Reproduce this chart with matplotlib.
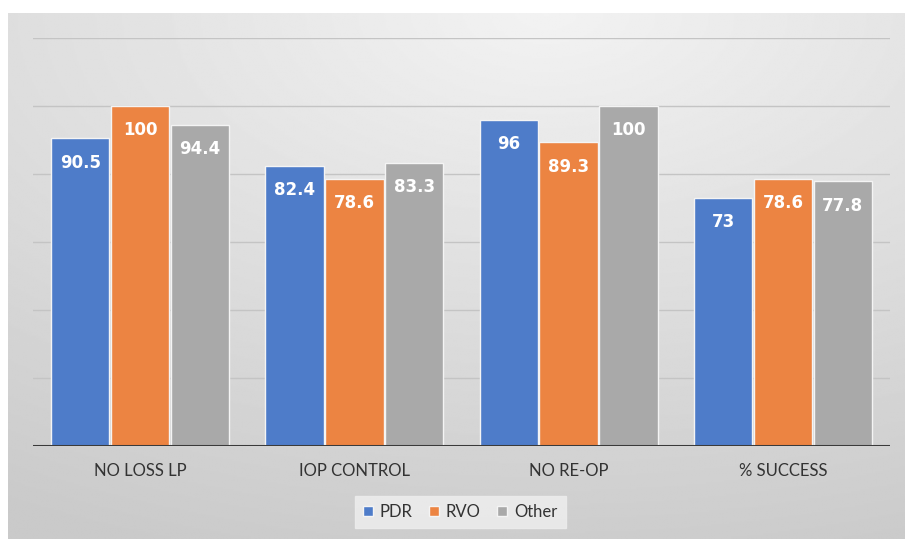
import numpy as np
import matplotlib
matplotlib.use("Agg")
import matplotlib.pyplot as plt

plt.rcParams["font.family"] = ["Lato", "DejaVu Sans"]

categories = ["NO LOSS LP", "IOP CONTROL", "NO RE-OP", "% SUCCESS"]
series_names = ["PDR", "RVO", "Other"]
pdr = [90.5, 82.4, 96, 73]
rvo = [100, 78.6, 89.3, 78.6]
other = [94.4, 83.3, 100, 77.8]
labels = [["90.5", "82.4", "96", "73"],
          ["100", "78.6", "89.3", "78.6"],
          ["94.4", "83.3", "100", "77.8"]]
colors = ["#4e7cc9", "#ec8442", "#a9a9a9"]

W, H = 905, 539
fig = plt.figure(figsize=(W / 100, H / 100), dpi=100)
fig.patch.set_facecolor("white")

# gradient background panel
bg = fig.add_axes([8 / W, 0, 1 - 8 / W, 1 - 13 / H])
bg.set_axis_off()
yy, xx = np.mgrid[0:1:300j, 0:1:500j]
dist = np.sqrt(((xx - 0.6) * 1.0) ** 2 + ((yy - 0.0) * 1.1) ** 2)
shade = 0.95 - 0.16 * np.clip(dist, 0, 1.2) / 1.2
bg.imshow(shade, cmap="gray", vmin=0, vmax=1, aspect="auto",
          extent=[0, 1, 0, 1], origin="upper", interpolation="bilinear")

ax = fig.add_axes([33 / W, 1 - 446 / H, (890 - 33) / W, (446 - 38) / H])
ax.patch.set_alpha(0)
for s in ax.spines.values():
    s.set_visible(False)

x = np.arange(len(categories))
width = 0.272
offsets = [-0.279, 0, 0.279]
for i, (vals, name) in enumerate(zip([pdr, rvo, other], series_names)):
    bars = ax.bar(x + offsets[i], vals, width, color=colors[i], label=name,
                  edgecolor="#f4f4f4", linewidth=1.0, zorder=3)
    for b, lab in zip(bars, labels[i]):
        ax.annotate(lab, (b.get_x() + b.get_width() / 2, b.get_height()),
                    xytext=(0, -11), textcoords="offset points",
                    ha="center", va="top", color="white",
                    family="DejaVu Sans", fontsize=12, fontweight="bold",
                    zorder=4)

ax.set_xlim(-0.5, 3.5)
ax.set_ylim(0, 120)
ax.set_yticks([20, 40, 60, 80, 100, 120])
ax.yaxis.grid(True, color="#c4c4c4", linewidth=1, zorder=0)
ax.tick_params(axis="y", left=False, labelleft=False)
ax.axhline(0, color="#3a3a3a", linewidth=2.2, zorder=5)
ax.set_xticks(x)
ax.set_xticklabels(categories, fontsize=12, color="#333333")
ax.tick_params(axis="x", length=0, pad=12)

leg = fig.legend(loc="center", bbox_to_anchor=(460 / W, 1 - 512 / H), ncol=3,
                 frameon=True, fontsize=12, handlelength=0.6,
                 handleheight=0.6, handletextpad=0.4, columnspacing=1.0,
                 borderpad=0.5, fancybox=False)
leg.get_frame().set_facecolor("#ececec")
leg.get_frame().set_edgecolor("#ececec")
leg.get_frame().set_alpha(0.9)
for t in leg.get_texts():
    t.set_color("#333333")

fig.savefig("out.png", dpi=100)
